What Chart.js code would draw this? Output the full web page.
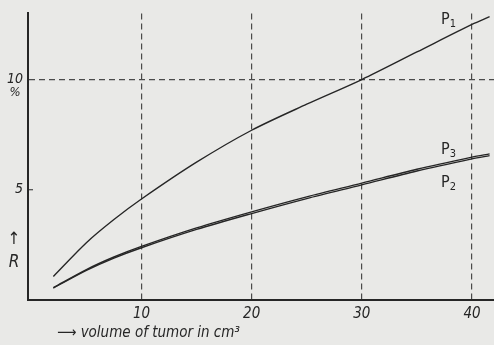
<!DOCTYPE html>
<html>
<head>
<meta charset="utf-8">
<script src="https://cdn.jsdelivr.net/npm/chart.js@4"></script>
<style>
  body { margin: 0; background: #e9e9e7; }
  #wrap { width: 494px; height: 345px; }
</style>
</head>
<body>
<div id="wrap"><canvas id="grafico" width="494" height="345"></canvas></div>
<script>
// valores
const volumen = [2, 5, 7.5, 10, 15, 20, 25, 30, 35, 40, 41.6];
const p1 = [1.07, 2.6, 3.65, 4.58, 6.25, 7.7, 8.88, 10.0, 11.25, 12.5, 12.85];
const p2 = [0.54, 1.34, 1.9, 2.37, 3.2, 3.92, 4.6, 5.22, 5.85, 6.4, 6.55];
const p3 = [0.56, 1.38, 1.95, 2.43, 3.27, 4.0, 4.68, 5.3, 5.93, 6.48, 6.63];
const ticksX = [10, 20, 30, 40];
const ticksY = [5, 10];
const etiquetas = [
  { nombre: 'P', sub: '1', x: 441, y: 20 },
  { nombre: 'P', sub: '3', x: 441, y: 150 },
  { nombre: 'P', sub: '2', x: 441, y: 183 }
];

const fuente = '"Liberation Sans Narrow", "DejaVu Sans Condensed", sans-serif';
const tinta = '#262626';
const rejilla = '#4a4a4a';

function serie(valores) {
  return {
    data: volumen.map((v, i) => ({ x: v, y: valores[i] })),
    showLine: true,
    borderColor: tinta,
    borderWidth: 1.4,
    pointRadius: 0,
    tension: 0.3
  };
}

const textos = {
  id: 'textos',
  afterDraw(chart) {
    const ctx = chart.ctx;
    ctx.save();
    ctx.fillStyle = tinta;
    ctx.textBaseline = 'middle';
    etiquetas.forEach(e => {
      ctx.font = '16px ' + fuente;
      ctx.textAlign = 'left';
      ctx.fillText(e.nombre, e.x, e.y);
      const w = ctx.measureText(e.nombre).width;
      ctx.font = '11px ' + fuente;
      ctx.fillText(e.sub, e.x + w, e.y + 4);
    });
    ctx.font = 'italic 13px ' + fuente;
    ctx.textAlign = 'center';
    ctx.fillText('%', 15, 93);
    ctx.font = '17px ' + fuente;
    ctx.fillText('↑', 14, 240);
    ctx.font = 'italic 17px ' + fuente;
    ctx.fillText('R', 14, 263);
    ctx.font = 'italic 15px ' + fuente;
    ctx.textAlign = 'left';
    ctx.fillText('⟶ volume of tumor in cm³', 57, 333);
    // marca del 5 en el eje
    const y5 = chart.scales.y.getPixelForValue(5);
    ctx.strokeStyle = tinta;
    ctx.lineWidth = 1;
    ctx.beginPath();
    ctx.moveTo(28, y5);
    ctx.lineTo(33, y5);
    ctx.stroke();
    ctx.restore();
  }
};

new Chart(document.getElementById('grafico'), {
  type: 'scatter',
  data: { datasets: [serie(p1), serie(p2), serie(p3)] },
  options: {
    responsive: false,
    animation: false,
    layout: { padding: { top: 8, right: 0, left: 0, bottom: 0 } },
    plugins: { legend: { display: false }, tooltip: { enabled: false } },
    scales: {
      x: {
        type: 'linear',
        min: -0.3,
        max: 42,
        afterBuildTicks: s => { s.ticks = ticksX.map(v => ({ value: v })); },
        afterFit: s => { s.height = 45; },
        grid: { color: rejilla, lineWidth: 1.2, drawTicks: false },
        border: { color: tinta, width: 2, dash: [6, 4] },
        ticks: { color: tinta, padding: 5, font: { family: fuente, size: 15, style: 'italic' } }
      },
      y: {
        min: 0,
        max: 13,
        afterBuildTicks: s => { s.ticks = ticksY.map(v => ({ value: v })); },
        afterFit: s => { s.width = 28; },
        grid: {
          color: c => c.tick && c.tick.value === 10 ? rejilla : 'rgba(0,0,0,0)',
          lineWidth: 1.2,
          drawTicks: false
        },
        border: { color: tinta, width: 2, dash: [6, 4] },
        ticks: { color: tinta, padding: 5, font: { family: fuente, size: 14, style: 'italic' } }
      }
    }
  },
  plugins: [textos]
});
</script>
</body>
</html>
